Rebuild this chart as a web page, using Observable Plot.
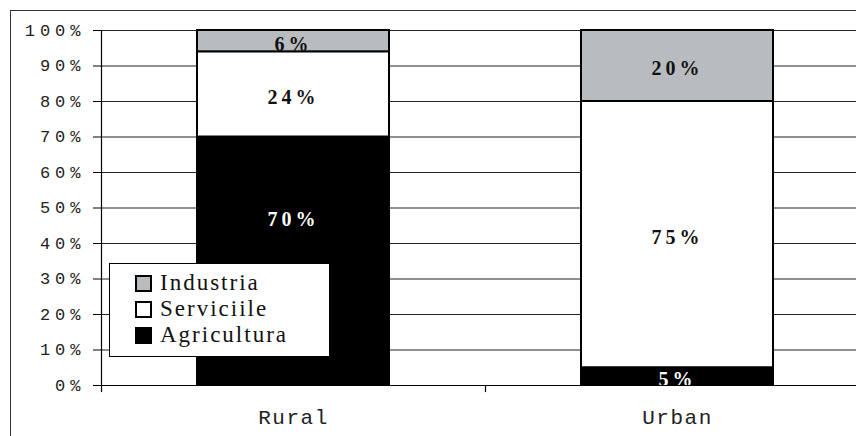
<!DOCTYPE html>
<html><head><meta charset="utf-8">
<script src="https://cdn.jsdelivr.net/npm/d3@7"></script>
<script src="https://cdn.jsdelivr.net/npm/@observablehq/plot@0.6"></script>
<style>
body{margin:0;background:#fff;overflow:hidden;}
#wrap{position:relative;width:856px;height:436px;overflow:hidden;}
#border{position:absolute;left:10px;top:10px;width:900px;height:500px;border-left:1.5px solid #333;border-top:1.5px solid #333;pointer-events:none;}
#legend{position:absolute;left:109px;top:263px;width:221px;height:94px;border:1px solid #000;background:#fff;box-sizing:border-box;padding-top:6px;font-family:"Liberation Serif",serif;font-size:23px;letter-spacing:2px;color:#111;}
#legend .row{height:26px;display:flex;align-items:center;padding-left:25px;}
#legend .sw{width:13px;height:13px;border:2px solid #000;margin-right:8px;flex:none;}
g[aria-label="text"] text{letter-spacing:4px;}
g[aria-label="y-axis tick label"] text{letter-spacing:5px;}
g[aria-label="x-axis tick label"] text{letter-spacing:1.5px;}
</style>
</head><body>
<div id="wrap"><div id="chart"></div><div id="legend"></div><div id="border"></div></div>
<script>
const categories = ["Rural", "Urban"];
const sectors = ["Agricultura", "Serviciile", "Industria"];
const rural = [70, 24, 6];
const urban = [5, 75, 20];
const yTicks = [0, 10, 20, 30, 40, 50, 60, 70, 80, 90, 100];
const sectorColors = ["#000000", "#ffffff", "#b9bcbf"];
const legendOrder = ["Industria", "Serviciile", "Agricultura"];

const series = [rural, urban];
const data = [];
const labels = [];
categories.forEach((c, i) => {
  let acc = 0;
  sectors.forEach((s, j) => {
    const v = series[i][j];
    data.push({cat: c, sector: s, value: v});
    labels.push({cat: c, sector: s, mid: acc + v / 2, text: v + "%", color: s === "Agricultura" ? "#fff" : "#111"});
    acc += v;
  });
});
const isShifted = d => d.cat === "Rural" && d.sector === "Agricultura";

const chart = Plot.plot({
  width: 856, height: 436,
  marginLeft: 101, marginTop: 30, marginBottom: 51, marginRight: 0,
  x: {domain: categories, range: [101, 869], padding: 0, axis: null},
  y: {domain: [0, 100], axis: null},
  color: {domain: sectors, range: sectorColors},
  style: {background: "transparent", overflow: "visible"},
  marks: [
    Plot.ruleY(yTicks, {stroke: "#222", strokeWidth: 1.2}),
    Plot.barY(data, {x: "cat", y: "value", fill: "sector", order: sectors, stroke: "#000", strokeWidth: 2, insetLeft: 96, insetRight: 96}),
    Plot.text(labels.filter(d => !isShifted(d)), {x: "cat", y: "mid", text: "text", fill: "color", dy: 3, fontFamily: "Liberation Serif", fontWeight: "bold", fontSize: 20}),
    Plot.text(labels.filter(isShifted), {x: "cat", y: "mid", text: "text", fill: "color", dy: -42, fontFamily: "Liberation Serif", fontWeight: "bold", fontSize: 20}),
    Plot.axisY({ticks: yTicks, tickFormat: d => d + "%", tickSize: 8, tickPadding: 8, fontFamily: "Liberation Mono", fontSize: 17, stroke: "#000", color: "#222", label: null}),
    Plot.axisX(categories, {tickSize: 0, tickPadding: 24, fontFamily: "Liberation Mono", fontSize: 21, color: "#222", label: null}),
    Plot.ruleX(categories, {x: d => d, y1: 0, y2: -2, dx: -192, stroke: "#000", strokeWidth: 1.2}),
    Plot.frame({anchor: "left", stroke: "#000", strokeWidth: 1.2}),
    Plot.frame({anchor: "bottom", stroke: "#000", strokeWidth: 1.2})
  ]
});
document.getElementById("chart").appendChild(chart);

const legend = d3.select("#legend");
legendOrder.forEach(s => {
  const row = legend.append("div").attr("class", "row");
  row.append("div").attr("class", "sw").style("background", sectorColors[sectors.indexOf(s)]);
  row.append("span").text(s);
});
</script>
</body></html>
